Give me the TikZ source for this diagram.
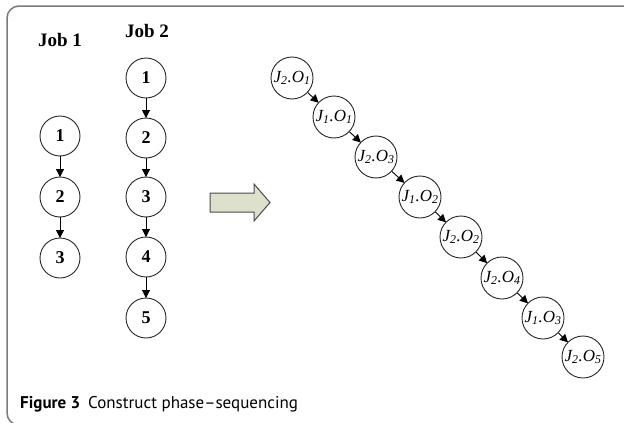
\documentclass[tikz,border=0pt]{standalone}
\usepackage{fontspec}
\setmainfont{Liberation Serif}
\newfontfamily\capfont{PT Sans}
\usetikzlibrary{arrows.meta}
\definecolor{framegray}{HTML}{7A7A7A}
\definecolor{arrowfill}{HTML}{DDE1CB}
\definecolor{arrowline}{HTML}{4A4A4A}
\newcommand{\opl}[2]{J\textsubscript{#1}.O\textsubscript{#2}}
\tikzset{
  x=1pt, y=-1pt,
  opnode/.style={circle, draw=black!85, line width=0.9pt, minimum size=40pt, inner sep=0pt, fill=white,
                 font=\fontsize{18}{18}\selectfont\bfseries},
  seqnode/.style={circle, draw=black!85, line width=0.9pt, minimum size=42pt, inner sep=0pt, fill=white,
                 font=\fontsize{17}{17}\selectfont\itshape},
  joblabel/.style={font=\fontsize{19}{19}\selectfont\bfseries},
  link/.style={draw=black, line width=0.9pt, -{Triangle[length=8pt,width=8pt]}, shorten >=-0.5pt},
}
\begin{document}
\begin{tikzpicture}
\useasboundingbox (0,0) rectangle (624,423);
% frame
\draw[framegray, line width=1.5pt, rounded corners=12pt] (640,6) -- (7,6) -- (7,425) -- (40,425);

% job columns
\node[joblabel] (l1) at (60,40) {Job 1};
\node[joblabel] (l2) at (147,31) {Job 2};

\node[opnode] (a1) at (60,136) {1};
\node[opnode] (a2) at (60,197) {2};
\node[opnode] (a3) at (60,258) {3};

\node[opnode] (b1) at (146,78) {1};
\node[opnode] (b2) at (146,138) {2};
\node[opnode] (b3) at (146,197) {3};
\node[opnode] (b4) at (146,257) {4};
\node[opnode] (b5) at (146,318) {5};

\foreach \u/\v in {a1/a2,a2/a3,b1/b2,b2/b3,b3/b4,b4/b5}
  \draw[link] (\u) -- (\v);

% transition arrow
\draw[draw=arrowline, fill=arrowfill, line width=1pt, line join=miter]
  (210,193) -- (254,193) -- (254,184) -- (270,202.5) -- (254,221) -- (254,212) -- (210,212) -- cycle;

% operation sequence
\node[seqnode] (s1) at (292,78)  {\opl{2}{1}};
\node[seqnode] (s2) at (334,117) {\opl{1}{1}};
\node[seqnode] (s3) at (376,157) {\opl{2}{3}};
\node[seqnode] (s4) at (420,197) {\opl{1}{2}};
\node[seqnode] (s5) at (461,237) {\opl{2}{2}};
\node[seqnode] (s6) at (502,278) {\opl{2}{4}};
\node[seqnode] (s7) at (543,318) {\opl{1}{3}};
\node[seqnode] (s8) at (583,357) {\opl{2}{5}};

\foreach \u/\v in {s1/s2,s2/s3,s3/s4,s4/s5,s5/s6,s6/s7,s7/s8}
  \draw[link] (\u) -- (\v);

% caption
\node[anchor=base west, inner sep=0pt, font={\capfont\fontsize{17}{17}\selectfont}] (cap) at (20,408)
  {\textbf{Figure 3}\hspace{8pt}Construct phase–sequencing};
\end{tikzpicture}
\end{document}
